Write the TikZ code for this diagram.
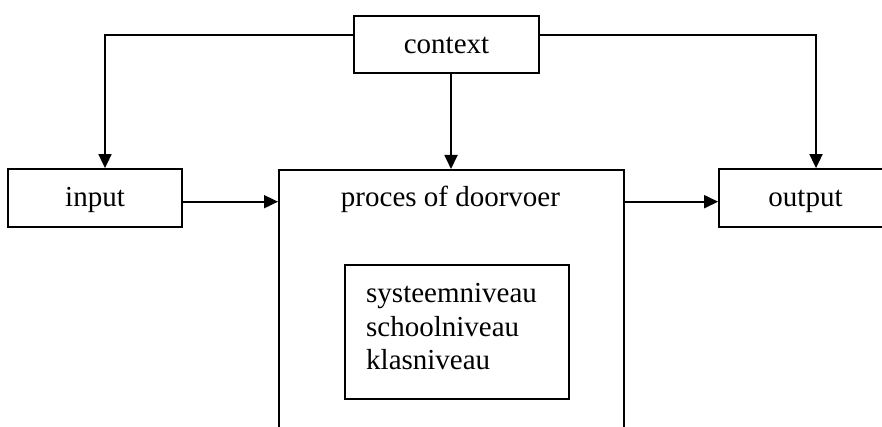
\documentclass[tikz,border=0pt]{standalone}
\usepackage{fontspec}
\setmainfont{Liberation Serif}
\usetikzlibrary{arrows.meta}
\begin{document}
\begin{tikzpicture}[x=1pt,y=-1pt,
  box/.style={draw, line width=1.8pt, inner sep=0pt, text height=22pt, text depth=4pt,
    font=\fontsize{29}{33}\selectfont},
  lbl/.style={inner sep=0pt, font=\fontsize{29}{33}\selectfont},
  arr/.style={line width=1.8pt, -{Triangle[length=14pt,width=13pt]}}]
\useasboundingbox[fill=white] (0,0) rectangle (882,427);
\begin{scope}
\clip (0,0) rectangle (882,427);
\node[box, minimum width=185pt, minimum height=57pt] (ctx) at (446.5,44.5) {context};
\node[box, minimum width=174pt, minimum height=58pt] (in) at (95,198) {input};
\node[box, overlay, minimum width=173pt, minimum height=58pt] (out) at (805.5,198) {output};
\node[draw, overlay, line width=1.8pt, minimum width=345pt, minimum height=300pt, anchor=north west, inner sep=0pt] (proc) at (278,169) {};
\node[lbl, anchor=base] (proct) at (450.5,207) {proces of doorvoer};
\node[draw, line width=1.8pt, minimum width=224pt, minimum height=134pt, inner sep=0pt] (lev) at (457,332) {};
\node[lbl, anchor=base west] (l1) at (366,302.5) {systeemniveau};
\node[lbl, anchor=base west] (l2) at (366,336) {schoolniveau};
\node[lbl, anchor=base west] (l3) at (366,369.5) {klasniveau};
\draw[arr] ([yshift=9.5pt]ctx.west) -| ([xshift=10pt]in.north);
\draw[arr] ([yshift=9.5pt]ctx.east) -| ([xshift=10.5pt]out.north);
\draw[arr] ([xshift=4.5pt]ctx.south) -- ([xshift=4.5pt]ctx.south |- proc.north);
\draw[arr] ([yshift=-3.7pt]in.east) -- ([yshift=-3.7pt]in.east -| proc.west);
\draw[arr] ([yshift=-3.7pt]proc.east |- in.east) -- ([yshift=-3.7pt]out.west);
\end{scope}
\end{tikzpicture}
\end{document}
